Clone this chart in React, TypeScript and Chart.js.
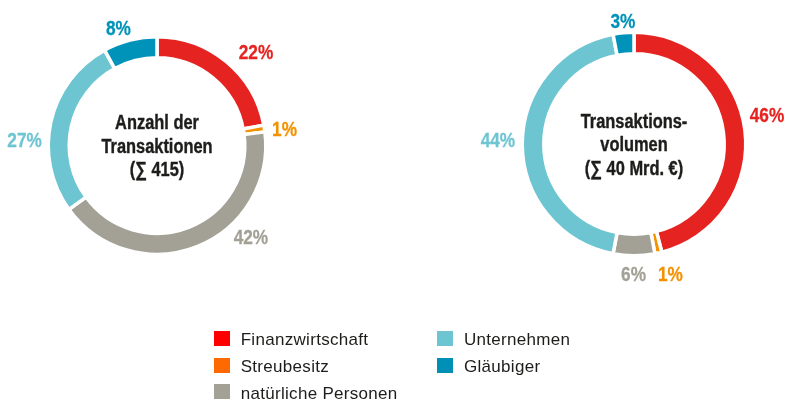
import React, { useEffect, useRef } from "react";
import { Chart, registerables } from "chart.js";

Chart.register(...registerables);

// ---- data ----
const categories = ["Finanzwirtschaft", "Streubesitz", "natürliche Personen", "Unternehmen", "Gläubiger"];
const anzahlValues = [22, 1, 42, 27, 8];
const volumenValues = [46, 1, 6, 44, 3];
const anzahlTitle = ["Anzahl der", "Transaktionen", "(∑ 415)"];
const volumenTitle = ["Transaktions-", "volumen", "(∑ 40 Mrd. €)"];

// ---- styles ----
const arcColors = ["#E52421", "#F39200", "#A3A095", "#6EC5D2", "#0093B9"];
const legendColors = ["#FF0000", "#FF6A00", "#A3A095", "#6EC5D2", "#0090B6"];
const SANS = '"Liberation Sans", Arial, sans-serif';
const TEXT = "#1D1D1B";
const NARROW_SCALE = 0.82;

// label placement (angle clockwise from top in degrees, distance in outer-radius units)
const anzahlLabelAngles = [46.5, 82.4, 134.1, 272.6, 341.9];
const anzahlLabelDists = [1.255, 1.183, 1.203, 1.219, 1.141];
const volumenLabelAngles = [77.3, 164.3, 180.2, 271.7, 354.9];
const volumenLabelDists = [1.22, 1.204, 1.159, 1.218, 1.114];

function narrowText(ctx: CanvasRenderingContext2D, text: string, x: number, y: number, stroke: number) {
  ctx.save();
  ctx.translate(x, y);
  ctx.scale(NARROW_SCALE, 1);
  ctx.fillText(text, 0, 0);
  if (stroke > 0) {
    ctx.lineWidth = stroke;
    ctx.lineJoin = "round";
    ctx.strokeStyle = ctx.fillStyle as string;
    ctx.strokeText(text, 0, 0);
  }
  ctx.restore();
}

function makeLabelPlugin(title: string[], angles: number[], dists: number[]) {
  return {
    id: "pctLabels",
    afterDatasetsDraw(chart: any) {
      const ctx: CanvasRenderingContext2D = chart.ctx;
      const meta = chart.getDatasetMeta(0);
      const data = chart.data.datasets[0].data as number[];
      ctx.save();
      const size = 21;
      ctx.font = `bold ${size}px ${SANS}`;
      ctx.textAlign = "center";
      ctx.textBaseline = "alphabetic";
      let cx = 0;
      let cy = 0;
      meta.data.forEach((arc: any, i: number) => {
        const p = arc.getProps(["x", "y", "outerRadius"], true);
        cx = p.x;
        cy = p.y;
        const a = (angles[i] * Math.PI) / 180;
        const d = dists[i] * p.outerRadius;
        const px = p.x + Math.sin(a) * d;
        const py = p.y - Math.cos(a) * d;
        ctx.fillStyle = arcColors[i];
        narrowText(ctx, `${data[i]}%`, px, py + (size * 0.716) / 2, 0.3);
      });
      ctx.font = `bold 20px ${SANS}`;
      ctx.fillStyle = TEXT;
      title.forEach((line, i) => {
        narrowText(ctx, line, cx, cy - 16.5 + i * 23.5, 0.4);
      });
      ctx.restore();
    },
  };
}

type DonutProps = {
  values: number[];
  title: string[];
  angles: number[];
  dists: number[];
  left: number;
  radius: number;
  padding: { left: number; right: number; top: number; bottom: number };
};

function Donut({ values, title, angles, dists, left, radius, padding }: DonutProps) {
  const ref = useRef<HTMLCanvasElement>(null);
  useEffect(() => {
    const chart = new Chart(ref.current as HTMLCanvasElement, {
      type: "doughnut",
      data: {
        labels: categories,
        datasets: [
          {
            data: values,
            backgroundColor: arcColors,
            borderColor: "#FFFFFF",
            borderWidth: 3.5,
            hoverOffset: 0,
          },
        ],
      },
      options: {
        responsive: false,
        animation: false,
        radius: radius,
        cutout: "80.7%",
        events: [],
        layout: { padding },
        plugins: {
          legend: { display: false },
          tooltip: { enabled: false },
        },
      } as any,
      plugins: [makeLabelPlugin(title, angles, dists)],
    });
    return () => chart.destroy();
  }, []);
  return (
    <canvas
      ref={ref}
      width={394}
      height={401}
      style={{ position: "absolute", left, top: 0, width: 394, height: 401 }}
    />
  );
}

function Legend() {
  return (
    <>
      {categories.map((c, i) => {
        const col = Math.floor(i / 3);
        const row = i % 3;
        const x = 214 + col * 223.3;
        const y = 331 + row * 26.7;
        return (
          <React.Fragment key={c}>
            <div
              style={{
                position: "absolute",
                left: x,
                top: y,
                width: 16,
                height: 15,
                background: legendColors[i],
              }}
            />
            <div
              style={{
                position: "absolute",
                left: x + 26.7,
                top: y + 1.3,
                height: 15,
                lineHeight: "15px",
                fontFamily: SANS,
                fontSize: 17,
                letterSpacing: "0.3px",
                color: TEXT,
                whiteSpace: "nowrap",
              }}
            >
              {c}
            </div>
          </React.Fragment>
        );
      })}
    </>
  );
}

export default function App() {
  return (
    <div
      style={{
        position: "absolute",
        left: 0,
        top: 0,
        width: 788,
        height: 401,
        background: "#FFFFFF",
        overflow: "hidden",
      }}
    >
      <Donut
        values={anzahlValues}
        title={anzahlTitle}
        angles={anzahlLabelAngles}
        dists={anzahlLabelDists}
        left={0}
        radius={108.75}
        padding={{ left: 0, right: 80, top: 0, bottom: 110 }}
      />
      <Donut
        values={volumenValues}
        title={volumenTitle}
        angles={volumenLabelAngles}
        dists={volumenLabelDists}
        left={394}
        radius={111.75}
        padding={{ left: 90, right: 4, top: 0, bottom: 113 }}
      />
      <Legend />
    </div>
  );
}
